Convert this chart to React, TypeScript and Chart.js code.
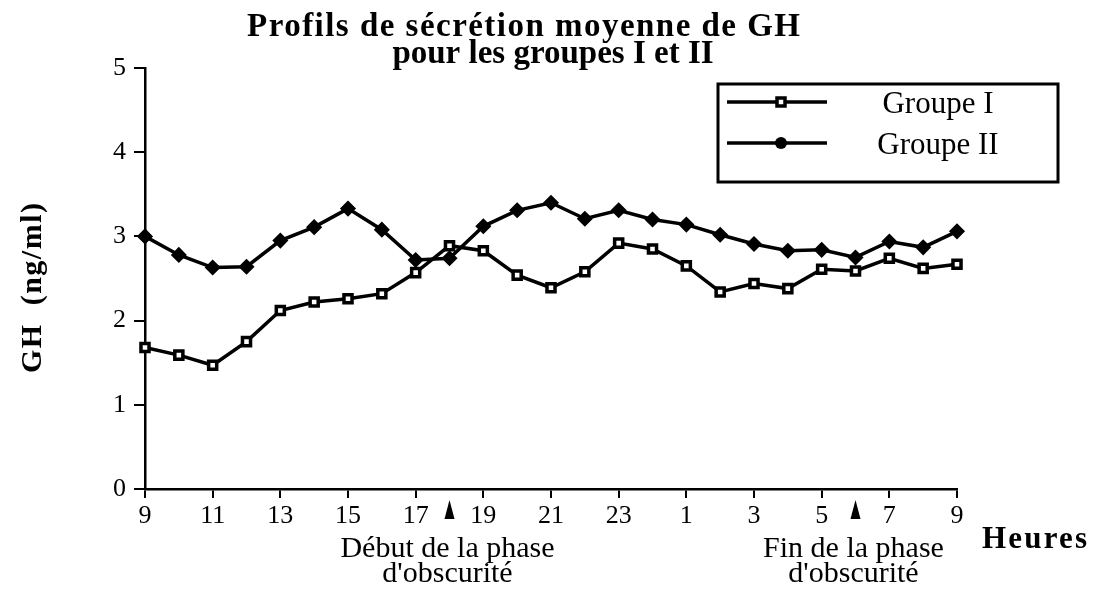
import React, { useEffect, useRef } from 'react';
import { Chart, registerables } from 'chart.js';

Chart.register(...registerables);

const hours = [9, 10, 11, 12, 13, 14, 15, 16, 17, 18, 19, 20, 21, 22, 23, 0, 1, 2, 3, 4, 5, 6, 7, 8, 9];
const groupI = [1.68, 1.59, 1.47, 1.75, 2.12, 2.22, 2.26, 2.32, 2.57, 2.89, 2.83, 2.54, 2.39, 2.58, 2.92, 2.85, 2.65, 2.34, 2.44, 2.38, 2.61, 2.59, 2.74, 2.62, 2.67];
const groupII = [3.0, 2.78, 2.63, 2.64, 2.95, 3.11, 3.33, 3.08, 2.72, 2.74, 3.12, 3.31, 3.4, 3.21, 3.31, 3.2, 3.14, 3.02, 2.91, 2.83, 2.84, 2.75, 2.94, 2.87, 3.06];
const seriesNames = ['Groupe I', 'Groupe II'];
const titleLines = ['Profils de sécrétion moyenne de GH', 'pour les groupes I et II'];
const yTitle = 'GH  (ng/ml)';
const xTitle = 'Heures';
const arrowIndices = [9, 21];
const arrowLabels = [
  ['Début de la phase', "d'obscurité"],
  ['Fin de la phase', "d'obscurité"],
];

const SERIF = "'Liberation Serif', 'Times New Roman', serif";

function drawText(
  ctx: CanvasRenderingContext2D,
  text: string,
  x: number,
  baseline: number,
  font: string,
  align: 'left' | 'center' = 'left',
  width?: number
) {
  const c = ctx as any;
  ctx.font = font;
  c.letterSpacing = '0px';
  const w = ctx.measureText(text).width;
  let total = w;
  if (width && 'letterSpacing' in c) {
    const ls = (width - w) / Math.max(1, text.length - 1);
    c.letterSpacing = ls + 'px';
    total = width;
  }
  const left = align === 'center' ? x - total / 2 : x;
  ctx.textAlign = 'left';
  ctx.textBaseline = 'alphabetic';
  ctx.fillStyle = '#000';
  ctx.fillText(text, left, baseline);
  c.letterSpacing = '0px';
}

const decorPlugin = {
  id: 'decor',
  afterDraw(chart: any) {
    const ctx: CanvasRenderingContext2D = chart.ctx;
    const xs = chart.scales.x;
    ctx.save();
    // Title
    drawText(ctx, titleLines[0], 247, 36, `bold 33px ${SERIF}`, 'left', 553);
    drawText(ctx, titleLines[1], 553, 63, `bold 33px ${SERIF}`, 'center');
    // Y title (rotated)
    ctx.save();
    ctx.translate(41, 288);
    ctx.rotate(-Math.PI / 2);
    drawText(ctx, yTitle, -85, 0, `bold 30px ${SERIF}`, 'left', 170);
    ctx.restore();
    // X title
    drawText(ctx, xTitle, 982, 548, `bold 31px ${SERIF}`, 'left', 105);
    // Arrows and annotations
    arrowIndices.forEach((idx, k) => {
      const px = xs.getPixelForValue(idx);
      ctx.beginPath();
      ctx.moveTo(px, 500);
      ctx.lineTo(px + 5, 519);
      ctx.lineTo(px - 5, 519);
      ctx.closePath();
      ctx.fillStyle = '#000';
      ctx.fill();
      const lines = arrowLabels[k];
      drawText(ctx, lines[0], px - 2, 557, `30px ${SERIF}`, 'center');
      drawText(ctx, lines[1], px - 2, 582, `30px ${SERIF}`, 'center');
    });
    // Legend
    ctx.lineWidth = 3;
    ctx.strokeStyle = '#000';
    ctx.strokeRect(718, 84, 340, 98);
    const rows = [102, 143];
    rows.forEach((ry, i) => {
      ctx.beginPath();
      ctx.lineWidth = 3.5;
      ctx.moveTo(727, ry);
      ctx.lineTo(827, ry);
      ctx.stroke();
      if (i === 0) {
        ctx.fillStyle = '#fff';
        ctx.fillRect(777, ry - 4, 8, 8);
        ctx.lineWidth = 3.5;
        ctx.strokeRect(777, ry - 4, 8, 8);
      } else {
        ctx.beginPath();
        ctx.arc(781, ry, 6, 0, Math.PI * 2);
        ctx.fillStyle = '#000';
        ctx.fill();
      }
      drawText(ctx, seriesNames[i], 938, ry + 11, `31px ${SERIF}`, 'center');
    });
    ctx.restore();
  },
};

export default function App() {
  const ref = useRef<HTMLCanvasElement | null>(null);
  useEffect(() => {
    if (!ref.current) return;
    Chart.defaults.font.family = SERIF;
    Chart.defaults.color = '#000';
    const chart = new Chart(ref.current, {
      type: 'line',
      data: {
        datasets: [
          {
            label: seriesNames[0],
            data: groupI.map((y, i) => ({ x: i, y })),
            borderColor: '#000',
            borderWidth: 3.5,
            pointStyle: 'rect',
            pointRadius: 5.7,
            pointBorderWidth: 3.5,
            pointBackgroundColor: '#fff',
            pointBorderColor: '#000',
            tension: 0,
            clip: false as any,
          },
          {
            label: seriesNames[1],
            data: groupII.map((y, i) => ({ x: i, y })),
            borderColor: '#000',
            borderWidth: 3.5,
            pointStyle: 'rectRot',
            pointRadius: 7,
            pointBorderWidth: 1.5,
            pointBackgroundColor: '#000',
            pointBorderColor: '#000',
            tension: 0,
            clip: false as any,
          },
        ],
      },
      options: {
        animation: false,
        responsive: false,
        maintainAspectRatio: false,
        layout: { padding: { top: 68, right: 139, left: 0, bottom: 0 } },
        plugins: {
          legend: { display: false },
          title: { display: false },
          tooltip: { enabled: false },
        },
        scales: {
          x: {
            type: 'linear',
            min: 0,
            max: 24,
            afterFit: (s: any) => {
              s.height = 105;
            },
            ticks: {
              stepSize: 2,
              autoSkip: false,
              maxRotation: 0,
              padding: 3,
              color: '#000',
              font: { size: 26, family: SERIF },
              callback: (v: any) => String(hours[Number(v)]),
            },
            grid: { drawOnChartArea: false, drawTicks: true, tickLength: 9, color: '#000', lineWidth: 2 },
            border: { display: true, color: '#000', width: 2.5 },
          },
          y: {
            type: 'linear',
            min: 0,
            max: 5,
            afterFit: (s: any) => {
              s.width = 145;
            },
            ticks: {
              stepSize: 1,
              padding: 8,
              color: '#000',
              font: { size: 26, family: SERIF },
            },
            grid: { drawOnChartArea: false, drawTicks: true, tickLength: 11, color: '#000', lineWidth: 2 },
            border: { display: true, color: '#000', width: 2.5 },
          },
        },
      },
      plugins: [decorPlugin],
    });
    return () => chart.destroy();
  }, []);
  return (
    <div style={{ position: 'fixed', left: 0, top: 0, width: 1096, height: 594, background: '#fff' }}>
      <canvas ref={ref} width={1096} height={594} style={{ display: 'block', width: 1096, height: 594 }} />
    </div>
  );
}
